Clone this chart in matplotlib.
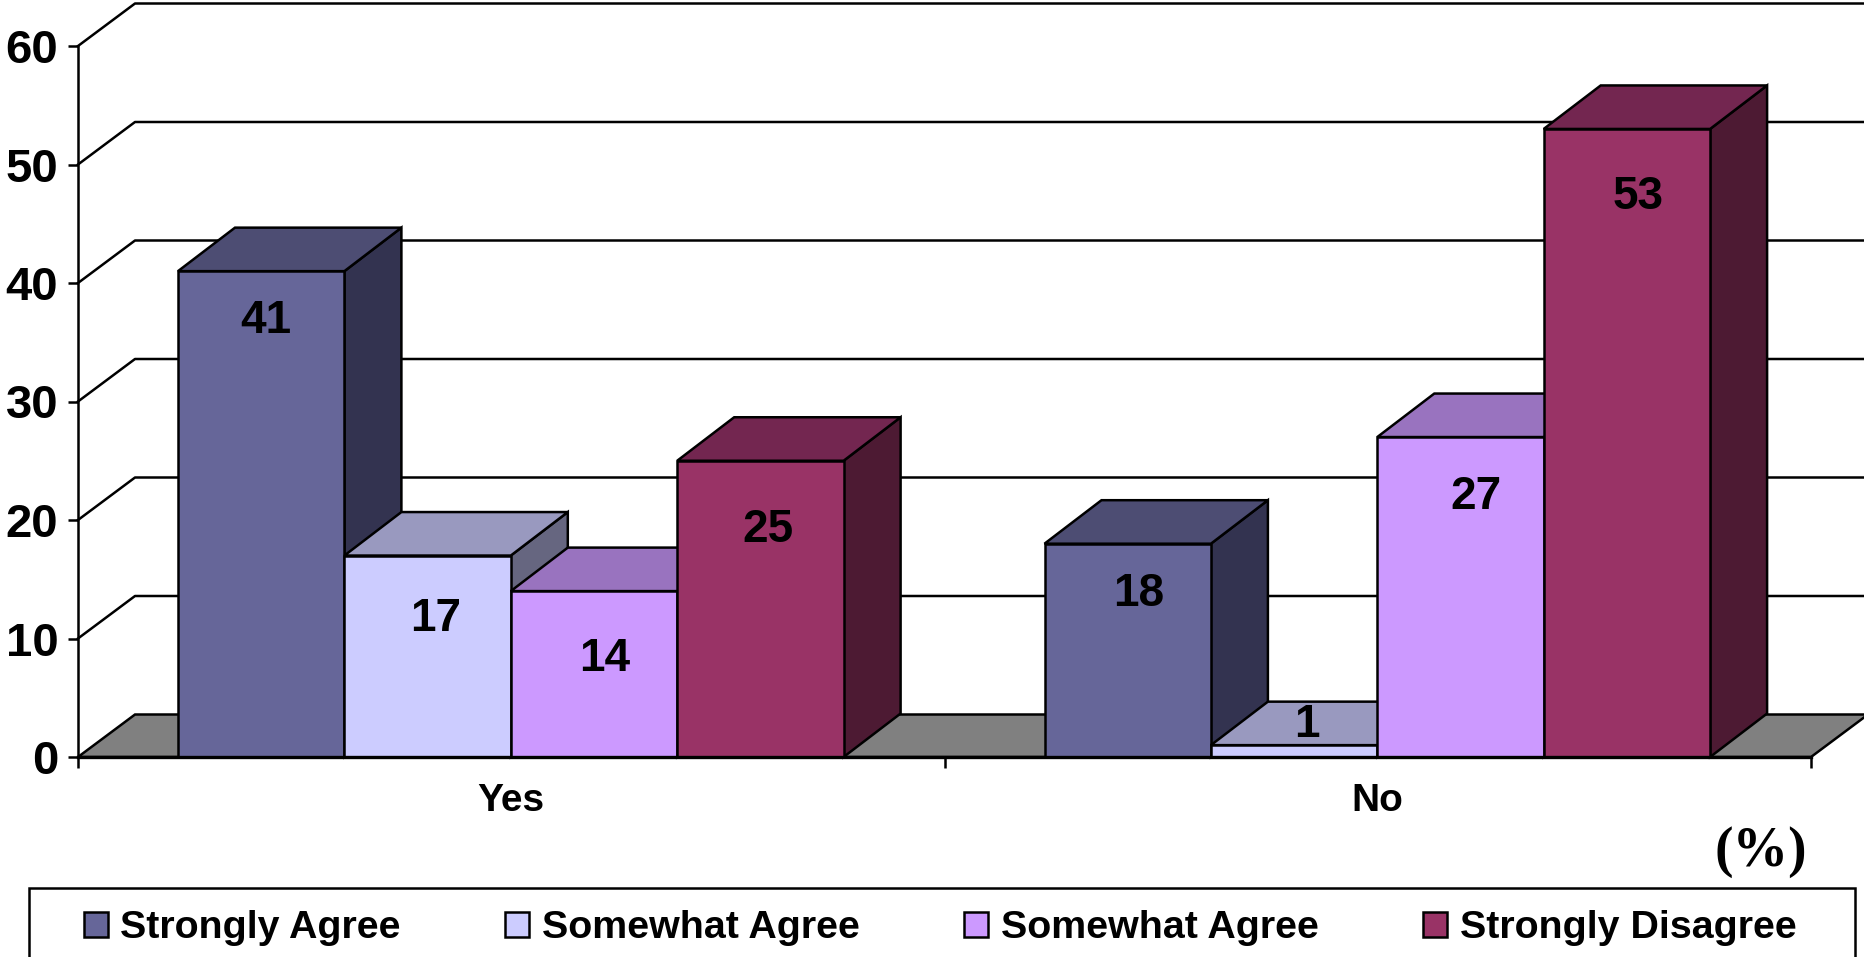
import matplotlib
matplotlib.use("Agg")
import matplotlib.pyplot as plt
from matplotlib.patches import Polygon, Rectangle

# valores
categorias = ["Yes", "No"]
series = ["Strongly Agree", "Somewhat Agree", "Somewhat Agree", "Strongly Disagree"]
valores = [[41, 18], [17, 1], [14, 27], [25, 53]]
yticks = [0, 10, 20, 30, 40, 50, 60]

cor_frente = ["#666699", "#CCCCFF", "#CC99FF", "#993366"]
cor_topo = ["#4D4D73", "#9999BF", "#9973BF", "#732650"]
cor_lado = ["#333350", "#666680", "#664D80", "#4D1A33"]

# deslocamento de cada rotulo em relacao ao centro do topo da barra (pixels)
rotulo_dx = [[5, 11], [8, 13], [11, 15], [8, 11]]
rotulo_dy = [[-50, -50], [-63, 20], [-68, -60], [-69, -68]]

L, R, T, B = 78, 1811, 46, 757
LW = 1.8

plt.rcParams['font.family'] = ['Liberation Sans', 'DejaVu Sans']
plt.rcParams['font.weight'] = 'bold'

fig = plt.figure(figsize=(18.64, 9.57), dpi=100)
ax = fig.add_axes([L / 1864, 1 - B / 957, (R - L) / 1864, (B - T) / 957])
ax.set_xlim(0, 2)
ax.set_ylim(0, 60)

# pixels -> unidades dos dados
px = 2 / (R - L)
py = 60 / (B - T)
fundo_x = 57 * px
fundo_y = 42.5 * py
prof_x = 57 * px
prof_y = 43.5 * py

# chao
ax.add_patch(Polygon([(0, 0), (fundo_x, fundo_y), (2 + fundo_x, fundo_y), (2, 0)],
                     closed=True, facecolor="#808080", edgecolor="black", lw=LW,
                     clip_on=False, zorder=1))

# linhas de grade com a parede
for v in yticks[1:]:
    ax.plot([0, fundo_x, 2 + fundo_x], [v, v + fundo_y, v + fundo_y],
            color="black", lw=LW, clip_on=False, zorder=1)

larg = 166.4 * px
margem = 100 * px
z = 2
for c in range(len(categorias)):
    for s in range(len(series)):
        x0 = c + margem + s * larg
        x1 = x0 + larg
        v = valores[s][c]
        # lado e topo primeiro, depois a frente
        ax.add_patch(Polygon([(x1, 0), (x1 + prof_x, prof_y), (x1 + prof_x, v + prof_y), (x1, v)],
                             closed=True, facecolor=cor_lado[s], edgecolor="black", lw=LW,
                             clip_on=False, zorder=z))
        ax.add_patch(Polygon([(x0, v), (x0 + prof_x, v + prof_y), (x1 + prof_x, v + prof_y), (x1, v)],
                             closed=True, facecolor=cor_topo[s], edgecolor="black", lw=LW,
                             clip_on=False, zorder=z))
        ax.bar(x0, v, width=larg, align='edge', color=cor_frente[s], edgecolor="black",
               lw=LW, zorder=z + 0.5, clip_on=False)
        z += 1

for c in range(len(categorias)):
    for s in range(len(series)):
        xc = c + margem + (s + 0.5) * larg
        ax.annotate(str(valores[s][c]), (xc, valores[s][c]),
                    xytext=(rotulo_dx[s][c] * 0.72, rotulo_dy[s][c] * 0.72),
                    textcoords='offset points', ha='center', va='center',
                    fontsize=33, fontweight='bold', color='black', zorder=100)

# eixos
for lado in ['top', 'right']:
    ax.spines[lado].set_visible(False)
ax.spines['left'].set_linewidth(LW)
ax.spines['bottom'].set_linewidth(2.4)
ax.spines['left'].set_zorder(50)
ax.spines['bottom'].set_zorder(50)
ax.patch.set_visible(False)

ax.set_yticks(yticks)
ax.tick_params(axis='y', length=7.2, width=LW, pad=7, labelsize=34)
ax.set_xticks([0, 1, 2])
ax.set_xticklabels([])
ax.set_xticks([0.5, 1.5], minor=True)
ax.set_xticklabels(categorias, minor=True, fontsize=28, fontweight='bold')
ax.tick_params(axis='x', which='major', length=8, width=LW)
ax.tick_params(axis='x', which='minor', length=0, pad=19)

fig.text(1761 / 1864, 1 - 852 / 957, "(%)", family=['Liberation Serif', 'DejaVu Serif'],
         fontsize=40, fontweight='bold', ha='center', va='center')

# legenda
fig.add_artist(Rectangle((29 / 1864, 1 - 980 / 957), (1855 - 29) / 1864, (980 - 888) / 957,
                         transform=fig.transFigure, facecolor='white', edgecolor='black',
                         lw=LW, zorder=0))
handles = [Rectangle((0, 0), 1, 1, facecolor=cor_frente[i], edgecolor='black', lw=LW)
           for i in range(len(series))]
fs = 28.4
em = fs / 0.72
fig.legend(handles, series, loc='center left', bbox_to_anchor=(83.5 / 1864, 1 - 928.5 / 957),
           ncol=4, frameon=False, fontsize=fs, borderpad=0, borderaxespad=0,
           handlelength=24 / em, handleheight=23 / em, handletextpad=13 / em,
           columnspacing=104 / em)

fig.savefig("out.png", dpi=100)
